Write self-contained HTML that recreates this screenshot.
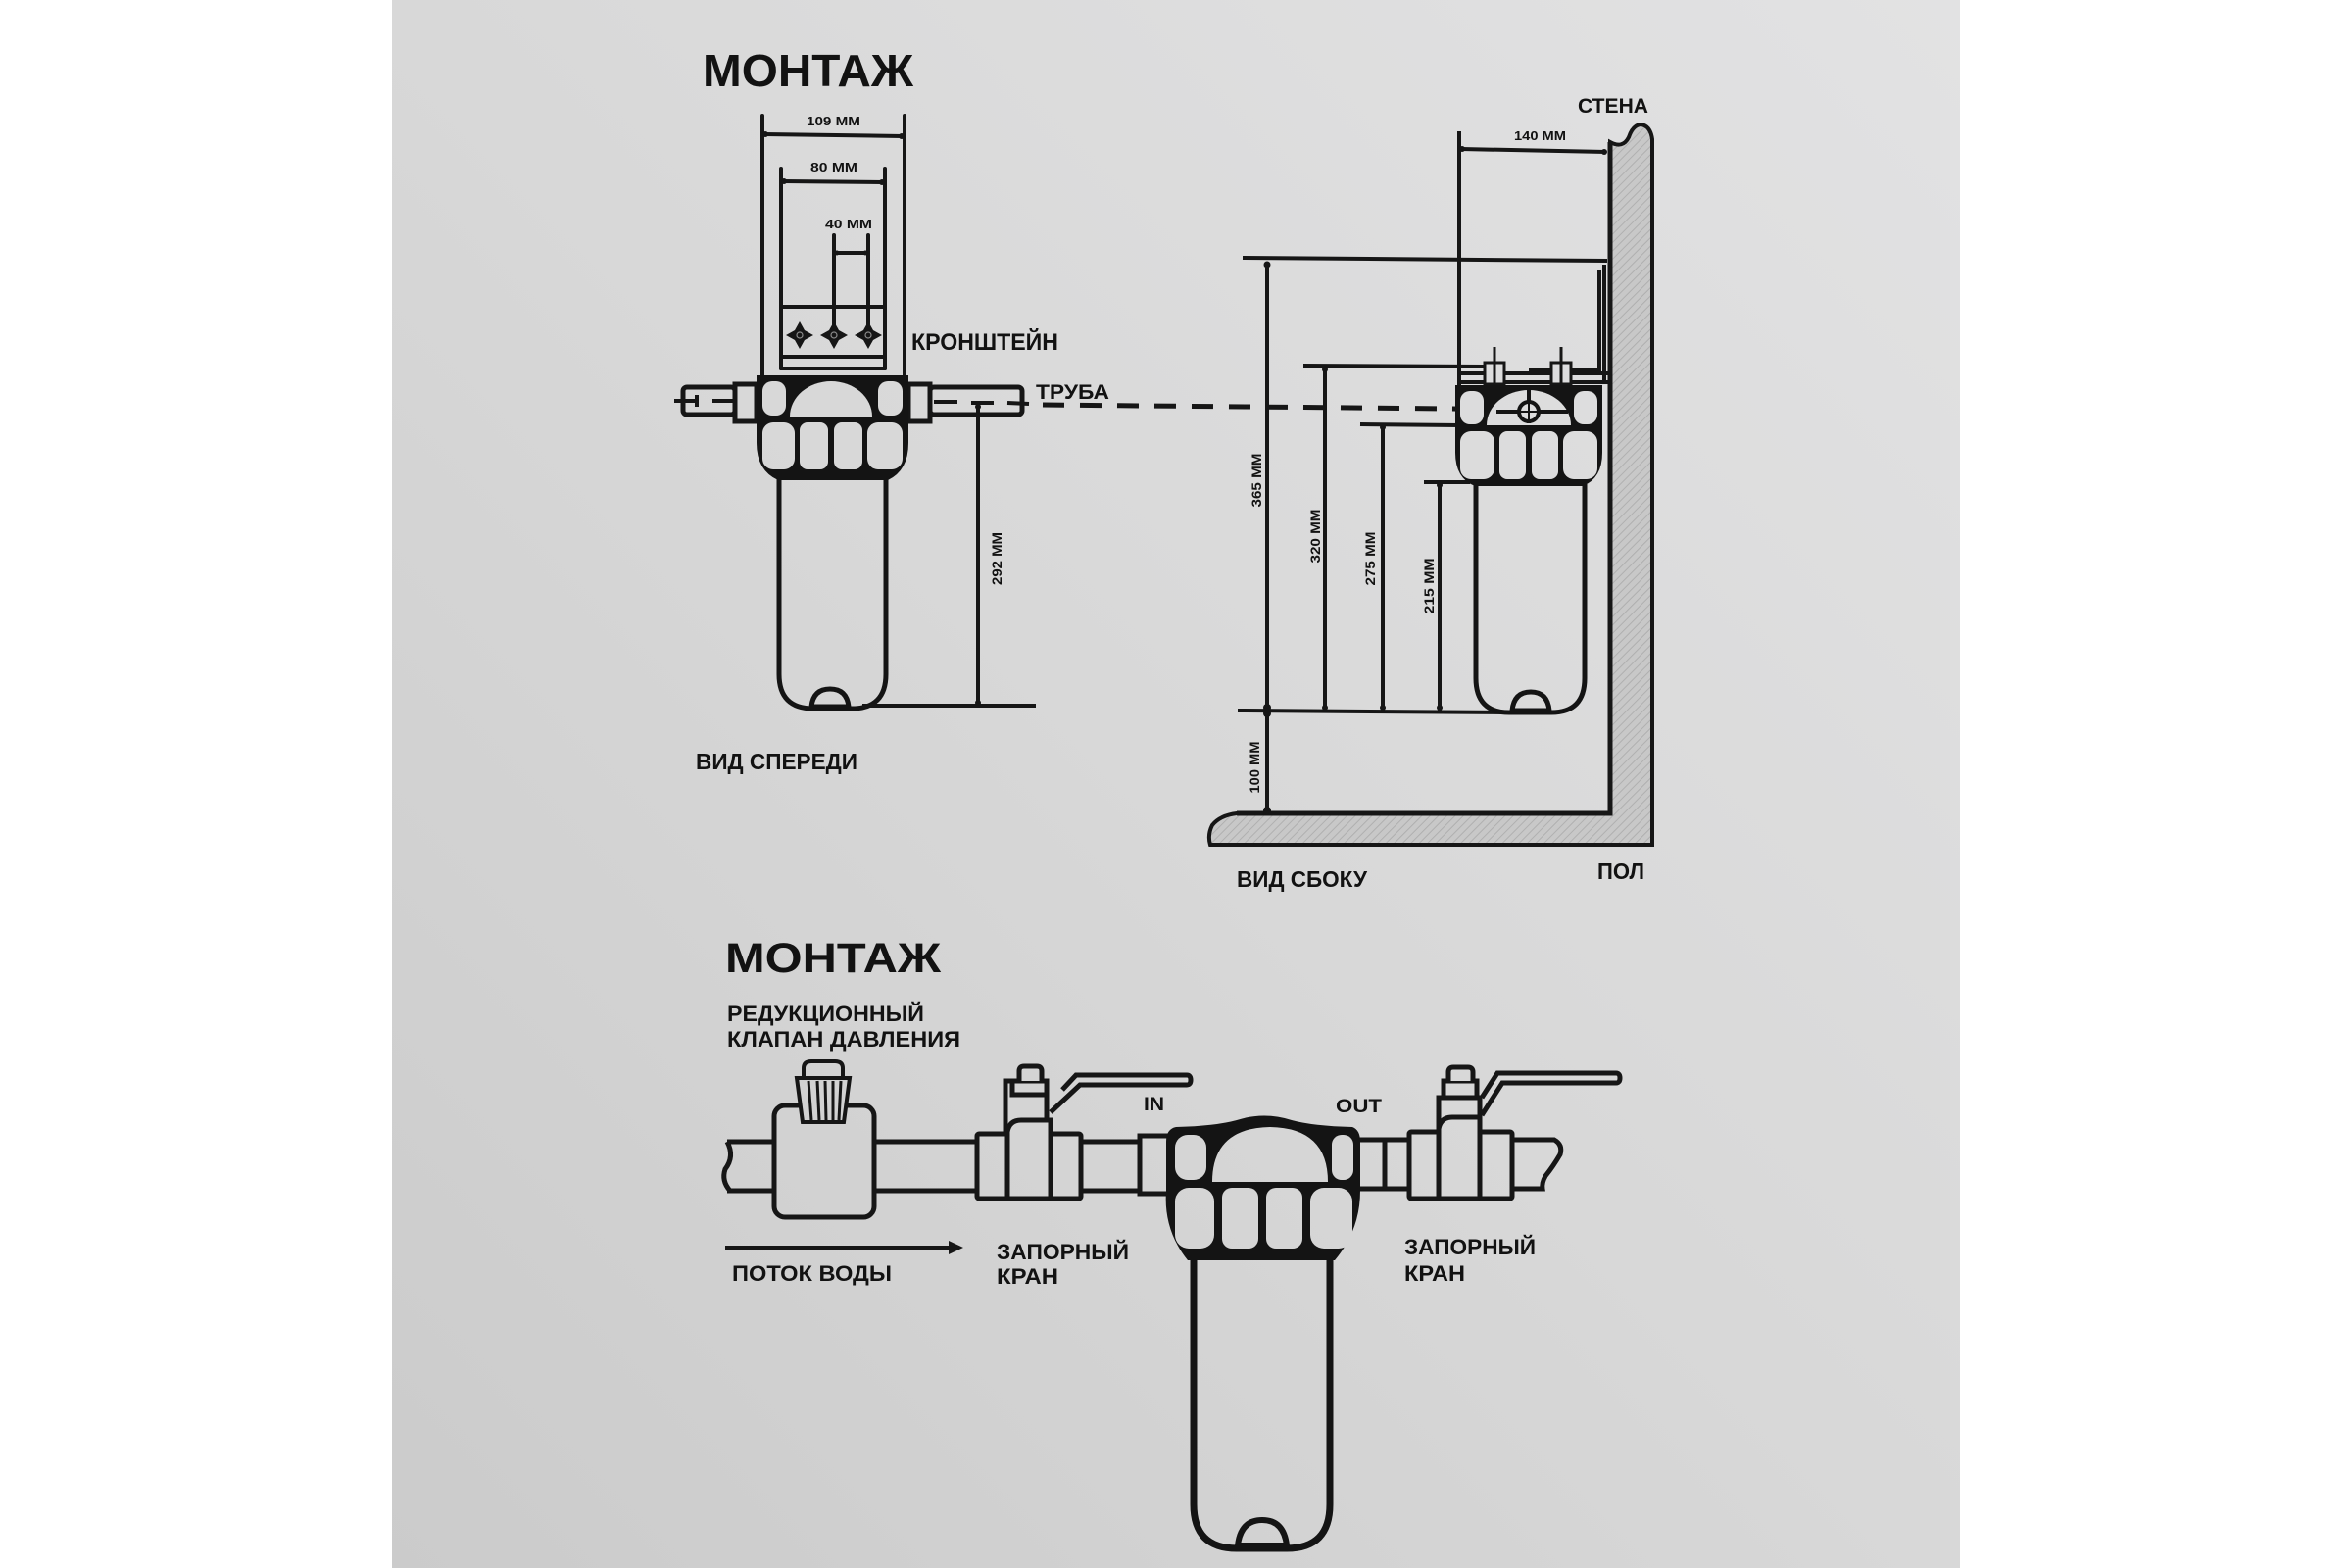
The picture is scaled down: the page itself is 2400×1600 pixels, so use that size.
<!DOCTYPE html>
<html>
<head>
<meta charset="utf-8">
<style>
html,body{margin:0;padding:0;background:#ffffff;}
svg{display:block;}
text{font-family:"Liberation Sans","DejaVu Sans",sans-serif;font-weight:bold;fill:#121212;}
</style>
</head>
<body>
<svg width="2400" height="1600" viewBox="0 0 2400 1600" xmlns="http://www.w3.org/2000/svg">
<defs>
  <linearGradient id="pg" gradientUnits="userSpaceOnUse" x1="2000" y1="0" x2="400" y2="1600">
    <stop offset="0" stop-color="#e2e2e3"/>
    <stop offset="0.5" stop-color="#d8d8d8"/>
    <stop offset="1" stop-color="#cbcbcb"/>
  </linearGradient>
  <pattern id="hatch" width="6" height="6" patternUnits="userSpaceOnUse" patternTransform="rotate(45)">
    <rect width="6" height="6" fill="#c8c8c8"/>
    <line x1="0" y1="0" x2="0" y2="6" stroke="#afafaf" stroke-width="2"/>
  </pattern>
</defs>

<rect x="0" y="0" width="2400" height="1600" fill="#ffffff"/>
<rect x="400" y="0" width="1600" height="1600" fill="url(#pg)"/>

<!-- ============ TOP: FRONT VIEW ============ -->
<text x="717" y="88" font-size="46" textLength="215" lengthAdjust="spacingAndGlyphs">МОНТАЖ</text>

<g stroke="#161616" fill="none" stroke-width="4" stroke-linecap="round">
  <line x1="778" y1="118" x2="778" y2="384"/>
  <line x1="923" y1="118" x2="923" y2="384"/>
  <line x1="780" y1="137" x2="921" y2="139"/>
  <line x1="797" y1="172" x2="797" y2="376"/>
  <line x1="903" y1="172" x2="903" y2="376"/>
  <line x1="799" y1="185" x2="901" y2="186"/>
  <line x1="851" y1="240" x2="851" y2="340"/>
  <line x1="886" y1="240" x2="886" y2="340"/>
  <line x1="853" y1="258" x2="884" y2="258"/>
  <line x1="797" y1="313" x2="903" y2="313"/>
  <line x1="797" y1="364" x2="903" y2="364"/>
  <line x1="797" y1="376" x2="903" y2="376"/>
</g>
<g fill="#161616">
  <circle cx="781" cy="137" r="3"/><circle cx="920" cy="139" r="3"/>
  <circle cx="800" cy="185" r="3"/><circle cx="900" cy="186" r="3"/>
  <circle cx="854" cy="258" r="2.5"/><circle cx="883" cy="258" r="2.5"/>
</g>
<text x="823" y="128" font-size="13" textLength="55" lengthAdjust="spacingAndGlyphs" fill="#222">109 MM</text>
<text x="827" y="175" font-size="13" textLength="48" lengthAdjust="spacingAndGlyphs">80 MM</text>
<text x="842" y="233" font-size="13" textLength="48" lengthAdjust="spacingAndGlyphs">40 MM</text>

<!-- stars -->
<g fill="#161616">
  <path d="M816,328 L821,337 L830,342 L821,347 L816,356 L811,347 L802,342 L811,337 Z"/>
  <path d="M851,328 L856,337 L865,342 L856,347 L851,356 L846,347 L837,342 L846,337 Z"/>
  <path d="M886,328 L891,337 L900,342 L891,347 L886,356 L881,347 L872,342 L881,337 Z"/>
  <circle cx="816" cy="342" r="6"/><circle cx="851" cy="342" r="6"/><circle cx="886" cy="342" r="6"/>
</g>
<g fill="none" stroke="#8a8a8a" stroke-width="1.2"><circle cx="816" cy="342" r="3"/><circle cx="851" cy="342" r="3"/><circle cx="886" cy="342" r="3"/></g>

<text x="930" y="357" font-size="24" textLength="150" lengthAdjust="spacingAndGlyphs">КРОНШТЕЙН</text>

<!-- pipe front -->
<g stroke="#161616" stroke-width="5" fill="url(#pg)">
  <rect x="697" y="395" width="53" height="28" rx="4"/>
  <rect x="750" y="392" width="22" height="38"/>
  <rect x="927" y="392" width="22" height="38"/>
  <rect x="949" y="395" width="94" height="28" rx="4"/>
</g>
<g stroke="#161616" stroke-width="4" fill="none">
  <line x1="688" y1="409" x2="712" y2="409"/>
  <line x1="711" y1="403" x2="711" y2="415"/>
  <line x1="727" y1="409" x2="748" y2="409"/>
  <line x1="953" y1="410" x2="977" y2="410"/>
  <line x1="991" y1="411" x2="1014" y2="411"/>
  <line x1="1028" y1="411" x2="1050" y2="412"/>
</g>
<text x="1057" y="407" font-size="21" textLength="75" lengthAdjust="spacingAndGlyphs">ТРУБА</text>
<line x1="1064" y1="413" x2="1585" y2="418" stroke="#161616" stroke-width="5" stroke-dasharray="22,16"/>

<!-- head A -->
<path d="M772,383 H927 V452 Q927,480 906,490 H794 Q772,480 772,452 Z" fill="#141414"/>
<g fill="url(#pg)">
  <rect x="778" y="389" width="24" height="35" rx="10"/>
  <path d="M806,425 A42,36 0 0 1 890,425 Z"/>
  <rect x="896" y="389" width="25" height="35" rx="10"/>
  <rect x="778" y="431" width="33" height="48" rx="11"/>
  <rect x="816" y="431" width="29" height="48" rx="8"/>
  <rect x="851" y="431" width="29" height="48" rx="8"/>
  <rect x="885" y="431" width="36" height="48" rx="11"/>
</g>
<path d="M795,486 V688 Q795,723 830,723 H869 Q904,723 904,688 V486" fill="none" stroke="#141414" stroke-width="5"/>
<path d="M828,721 Q830,703 847,703 Q864,703 866,721 Z" fill="url(#pg)" stroke="#141414" stroke-width="5"/>

<!-- 292 -->
<g stroke="#161616" stroke-width="4">
  <line x1="998" y1="413" x2="998" y2="719"/>
  <line x1="880" y1="720" x2="1057" y2="720"/>
</g>
<circle cx="998" cy="415" r="3" fill="#161616"/>
<circle cx="998" cy="717" r="3" fill="#161616"/>
<text transform="translate(1017,570) rotate(-90)" x="0" y="5" text-anchor="middle" font-size="14" textLength="54" lengthAdjust="spacingAndGlyphs">292 MM</text>

<text x="710" y="785" font-size="23" textLength="165" lengthAdjust="spacingAndGlyphs">ВИД СПЕРЕДИ</text>

<!-- ============ TOP: SIDE VIEW ============ -->
<text x="1610" y="115" font-size="21" textLength="72" lengthAdjust="spacingAndGlyphs">СТЕНА</text>

<path d="M1643,145 V830 H1262 Q1245,832 1237,842 Q1232,852 1235,862 H1686 V142 Q1684,128 1674,127 Q1666,128 1662,140 Q1656,152 1643,145 Z" fill="url(#hatch)" stroke="#161616" stroke-width="4"/>
<path d="M1643,145 V830 H1262" fill="none" stroke="#161616" stroke-width="5"/>

<g stroke="#161616" stroke-width="4" fill="none">
  <line x1="1489" y1="134" x2="1489" y2="395"/>
  <line x1="1491" y1="152" x2="1639" y2="155"/>
  <line x1="1268" y1="263" x2="1640" y2="266"/>
  <polyline points="1632,275 1632,377 1560,377"/>
  <line x1="1637" y1="270" x2="1637" y2="390"/>
  <line x1="1330" y1="373" x2="1515" y2="374"/>
  <line x1="1490" y1="381" x2="1641" y2="381"/>
  <line x1="1490" y1="390" x2="1641" y2="390"/>
  <line x1="1388" y1="433" x2="1490" y2="434"/>
  <line x1="1453" y1="492" x2="1500" y2="492"/>
  <line x1="1293" y1="268" x2="1293" y2="828"/>
  <line x1="1352" y1="375" x2="1352" y2="724"/>
  <line x1="1411" y1="435" x2="1411" y2="724"/>
  <line x1="1469" y1="494" x2="1469" y2="724"/>
  <line x1="1263" y1="725" x2="1535" y2="727"/>
</g>
<g fill="#161616">
  <circle cx="1492" cy="152" r="3"/><circle cx="1637" cy="155" r="3"/>
  <circle cx="1293" cy="270" r="3.5"/><circle cx="1293" cy="722" r="4"/><circle cx="1293" cy="728" r="4"/><circle cx="1293" cy="827" r="4"/>
  <circle cx="1352" cy="377" r="3"/><circle cx="1352" cy="722" r="3"/>
  <circle cx="1411" cy="436" r="3"/><circle cx="1411" cy="722" r="3"/>
  <circle cx="1469" cy="495" r="3"/><circle cx="1469" cy="722" r="3"/>
</g>
<g stroke="#161616" stroke-width="3" fill="url(#pg)">
  <line x1="1525" y1="354" x2="1525" y2="372"/>
  <line x1="1593" y1="354" x2="1593" y2="372"/>
  <rect x="1515" y="370" width="20" height="22"/>
  <rect x="1583" y="370" width="20" height="22"/>
  <line x1="1525" y1="370" x2="1525" y2="392"/>
  <line x1="1593" y1="370" x2="1593" y2="392"/>
</g>
<text x="1545" y="143" font-size="13" textLength="53" lengthAdjust="spacingAndGlyphs">140 MM</text>

<!-- head B -->
<path d="M1485,393 H1635 V462 Q1635,488 1615,496 H1505 Q1485,488 1485,462 Z" fill="#141414"/>
<g fill="url(#pg)">
  <rect x="1490" y="399" width="24" height="34" rx="10"/>
  <path d="M1517,434 A43,36 0 0 1 1603,434 Z"/>
  <rect x="1606" y="399" width="24" height="34" rx="10"/>
  <rect x="1490" y="440" width="35" height="49" rx="11"/>
  <rect x="1530" y="440" width="27" height="49" rx="8"/>
  <rect x="1563" y="440" width="27" height="49" rx="8"/>
  <rect x="1595" y="440" width="35" height="49" rx="11"/>
</g>
<line x1="1527" y1="420" x2="1600" y2="420" stroke="#141414" stroke-width="4"/>
<line x1="1560" y1="398" x2="1560" y2="432" stroke="#141414" stroke-width="4"/>
<circle cx="1560" cy="420" r="10" fill="url(#pg)" stroke="#141414" stroke-width="4"/>
<line x1="1552" y1="420" x2="1568" y2="420" stroke="#141414" stroke-width="2"/>
<line x1="1560" y1="412" x2="1560" y2="428" stroke="#141414" stroke-width="2"/>
<path d="M1506,494 V692 Q1506,727 1540,727 H1583 Q1617,727 1617,692 V494" fill="none" stroke="#141414" stroke-width="5"/>
<path d="M1543,725 Q1545,706 1562,706 Q1579,706 1581,725 Z" fill="url(#pg)" stroke="#141414" stroke-width="5"/>

<text transform="translate(1282,490) rotate(-90)" x="0" y="5" text-anchor="middle" font-size="14" textLength="55" lengthAdjust="spacingAndGlyphs">365 MM</text>
<text transform="translate(1342,547) rotate(-90)" x="0" y="5" text-anchor="middle" font-size="14" textLength="55" lengthAdjust="spacingAndGlyphs">320 MM</text>
<text transform="translate(1398,570) rotate(-90)" x="0" y="5" text-anchor="middle" font-size="14" textLength="55" lengthAdjust="spacingAndGlyphs">275 MM</text>
<text transform="translate(1458,598) rotate(-90)" x="0" y="5" text-anchor="middle" font-size="14" textLength="57" lengthAdjust="spacingAndGlyphs">215 MM</text>
<text transform="translate(1280,783) rotate(-90)" x="0" y="5" text-anchor="middle" font-size="14" textLength="53" lengthAdjust="spacingAndGlyphs">100 MM</text>

<text x="1262" y="905" font-size="23" textLength="133" lengthAdjust="spacingAndGlyphs">ВИД СБОКУ</text>
<text x="1630" y="897" font-size="23" textLength="48" lengthAdjust="spacingAndGlyphs">ПОЛ</text>

<!-- ============ BOTTOM DIAGRAM ============ -->
<text x="740" y="992" font-size="43" textLength="220" lengthAdjust="spacingAndGlyphs">МОНТАЖ</text>
<text x="742" y="1042" font-size="22" textLength="201" lengthAdjust="spacingAndGlyphs">РЕДУКЦИОННЫЙ</text>
<text x="742" y="1068" font-size="22" textLength="238" lengthAdjust="spacingAndGlyphs">КЛАПАН ДАВЛЕНИЯ</text>

<g stroke="#161616" stroke-width="5" fill="none">
  <path d="M742,1165 H790"/>
  <path d="M742,1215 H790"/>
  <path d="M742,1165 Q750,1180 740,1193 Q736,1205 745,1215"/>
  <path d="M892,1165 H997 M892,1215 H997"/>
  <path d="M1103,1165 H1163 M1103,1215 H1163"/>
  <path d="M1385,1163 H1438 M1385,1213 H1438"/>
  <line x1="1413" y1="1163" x2="1413" y2="1213"/>
  <path d="M1543,1163 H1586 Q1595,1168 1592,1178 Q1585,1190 1577,1200 Q1573,1207 1574,1213 H1543"/>
</g>

<!-- pressure reducing valve -->
<rect x="790" y="1128" width="102" height="114" rx="11" fill="url(#pg)" stroke="#161616" stroke-width="5"/>
<path d="M813,1100 H867 L861,1145 H819 Z" fill="url(#pg)" stroke="#161616" stroke-width="4"/>
<g stroke="#161616" stroke-width="3">
  <line x1="825" y1="1103" x2="828" y2="1143"/>
  <line x1="834" y1="1103" x2="836" y2="1143"/>
  <line x1="842" y1="1103" x2="843" y2="1143"/>
  <line x1="850" y1="1103" x2="850" y2="1143"/>
  <line x1="858" y1="1103" x2="856" y2="1143"/>
</g>
<path d="M820,1100 V1090 Q820,1083 828,1083 H852 Q860,1083 860,1090 V1100 Z" fill="url(#pg)" stroke="#161616" stroke-width="4"/>

<!-- ball valve 1 -->
<g stroke="#161616" stroke-width="5" fill="url(#pg)">
  <path d="M1084,1112 L1098,1097 H1211 Q1215,1097 1215,1102 Q1215,1107 1211,1107 H1102 L1072,1135"/>
  <rect x="1026" y="1103" width="42" height="54"/>
  <rect x="1033" y="1103" width="35" height="14"/>
  <path d="M1040,1103 V1093 Q1040,1088 1045,1088 H1058 Q1063,1088 1063,1093 V1103"/>
  <rect x="997" y="1157" width="31" height="66" rx="2"/>
  <path d="M1028,1223 V1155 Q1030,1143 1042,1143 H1072 V1223 Z"/>
  <rect x="1072" y="1157" width="31" height="66" rx="2"/>
</g>
<text x="1167" y="1133" font-size="19" textLength="21" lengthAdjust="spacingAndGlyphs">IN</text>

<rect x="1163" y="1159" width="32" height="59" fill="url(#pg)" stroke="#161616" stroke-width="5"/>

<!-- head C -->
<path d="M1200,1150 Q1240,1149 1262,1143 Q1290,1134 1318,1143 Q1340,1149 1380,1150 Q1388,1153 1388,1165 V1215 Q1388,1255 1362,1286 H1212 Q1187,1255 1190,1215 V1165 Q1190,1152 1200,1150 Z" fill="#141414"/>
<g fill="url(#pg)">
  <rect x="1199" y="1158" width="32" height="46" rx="13"/>
  <path d="M1237,1206 Q1237,1151 1296,1150 Q1355,1151 1355,1206 Z"/>
  <rect x="1359" y="1158" width="22" height="46" rx="10"/>
  <rect x="1199" y="1212" width="40" height="62" rx="14"/>
  <rect x="1247" y="1212" width="37" height="62" rx="10"/>
  <rect x="1292" y="1212" width="37" height="62" rx="10"/>
  <rect x="1337" y="1212" width="43" height="62" rx="14"/>
</g>
<path d="M1218,1282 V1535 Q1218,1580 1262,1580 H1313 Q1357,1580 1357,1535 V1282" fill="none" stroke="#141414" stroke-width="7"/>
<path d="M1263,1577 Q1266,1551 1288,1551 Q1310,1551 1313,1577 Z" fill="url(#pg)" stroke="#141414" stroke-width="6"/>
<text x="1363" y="1135" font-size="19" textLength="47" lengthAdjust="spacingAndGlyphs">OUT</text>

<!-- ball valve 2 -->
<g stroke="#161616" stroke-width="5" fill="url(#pg)">
  <path d="M1512,1120 L1528,1095 H1649 Q1653,1095 1653,1100 Q1653,1105 1649,1105 H1533 L1512,1138"/>
  <rect x="1468" y="1120" width="42" height="35"/>
  <rect x="1473" y="1103" width="34" height="17"/>
  <path d="M1478,1103 V1094 Q1478,1089 1483,1089 H1498 Q1503,1089 1503,1094 V1103"/>
  <rect x="1438" y="1155" width="30" height="68" rx="2"/>
  <path d="M1468,1223 V1152 Q1470,1140 1482,1140 H1510 V1223 Z"/>
  <rect x="1510" y="1155" width="33" height="68" rx="2"/>
</g>

<line x1="740" y1="1273" x2="970" y2="1273" stroke="#161616" stroke-width="4"/>
<path d="M968,1266 L983,1273 L968,1280 Z" fill="#161616"/>

<text x="747" y="1307" font-size="22" textLength="163" lengthAdjust="spacingAndGlyphs">ПОТОК ВОДЫ</text>
<text x="1017" y="1285" font-size="22" textLength="135" lengthAdjust="spacingAndGlyphs">ЗАПОРНЫЙ</text>
<text x="1017" y="1310" font-size="22" textLength="63" lengthAdjust="spacingAndGlyphs">КРАН</text>
<text x="1433" y="1280" font-size="22" textLength="134" lengthAdjust="spacingAndGlyphs">ЗАПОРНЫЙ</text>
<text x="1433" y="1307" font-size="22" textLength="62" lengthAdjust="spacingAndGlyphs">КРАН</text>
</svg>
</body>
</html>
